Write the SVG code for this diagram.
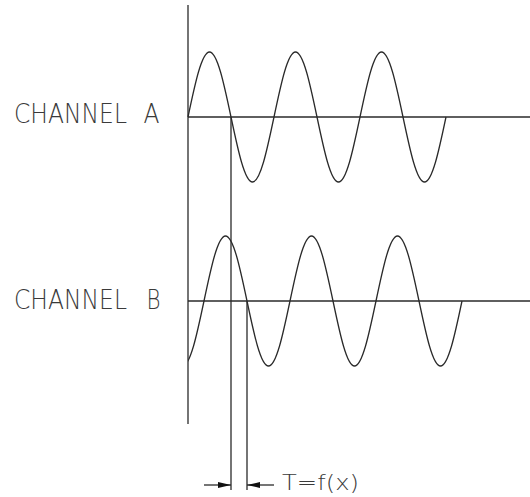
<svg xmlns="http://www.w3.org/2000/svg" width="530" height="497" viewBox="0 0 530 497">
  <style>
    .ln { stroke: #2a2a2a; stroke-width: 1.3; fill: none; }
    .lbl { font-family: "DejaVu Sans", "Liberation Sans", sans-serif; font-weight: 200; fill: #3a3a3a; }
  </style>
  <defs>
    <clipPath id="clipB"><rect x="188" y="0" width="342" height="497"/></clipPath>
    <marker id="ah" viewBox="0 0 13 6" refX="13" refY="3" markerWidth="13" markerHeight="6" markerUnits="userSpaceOnUse" orient="auto">
      <path d="M0,0 L13,3 L0,6 Z" fill="#111"/>
    </marker>
  </defs>
  <rect width="530" height="497" fill="#fff"/>

  <g id="axis">
    <line class="ln" x1="188" y1="5" x2="188" y2="424"/>
  </g>

  <g id="channel-a">
    <text class="lbl" font-size="26"><tspan x="14" y="123.3" textLength="113" lengthAdjust="spacingAndGlyphs">CHANNEL</tspan><tspan x="143.5" y="123.3" textLength="16" lengthAdjust="spacingAndGlyphs">A</tspan></text>
    <line class="ln" x1="188" y1="117" x2="530" y2="117"/>
    <path class="ln" d="M188,117
      c 7.01,-33.30 13.72,-65 21.5,-65 c 7.78,0 14.49,31.70 21.5,65 c 7.01,33.30 13.72,65 21.5,65 c 7.78,0 14.49,-31.70 21.5,-65
      c 7.01,-33.30 13.72,-65 21.5,-65 c 7.78,0 14.49,31.70 21.5,65 c 7.01,33.30 13.72,65 21.5,65 c 7.78,0 14.49,-31.70 21.5,-65
      c 7.01,-33.30 13.72,-65 21.5,-65 c 7.78,0 14.49,31.70 21.5,65 c 7.01,33.30 13.72,65 21.5,65 c 7.78,0 14.49,-31.70 21.5,-65"/>
  </g>

  <g id="channel-b">
    <text class="lbl" font-size="26"><tspan x="14" y="309" textLength="113" lengthAdjust="spacingAndGlyphs">CHANNEL</tspan><tspan x="146.5" y="309" textLength="14" lengthAdjust="spacingAndGlyphs">B</tspan></text>
    <line class="ln" x1="188" y1="301" x2="530" y2="301"/>
    <path class="ln" clip-path="url(#clipB)" d="M182.5,366
      c 7.78,0 14.49,-31.70 21.5,-65
      c 7.01,-33.30 13.72,-65 21.5,-65 c 7.78,0 14.49,31.70 21.5,65 c 7.01,33.30 13.72,65 21.5,65 c 7.78,0 14.49,-31.70 21.5,-65
      c 7.01,-33.30 13.72,-65 21.5,-65 c 7.78,0 14.49,31.70 21.5,65 c 7.01,33.30 13.72,65 21.5,65 c 7.78,0 14.49,-31.70 21.5,-65
      c 7.01,-33.30 13.72,-65 21.5,-65 c 7.78,0 14.49,31.70 21.5,65 c 7.01,33.30 13.72,65 21.5,65 c 7.78,0 14.49,-31.70 21.5,-65"/>
  </g>

  <g id="connectors">
    <line class="ln" x1="231" y1="117" x2="231" y2="490"/>
    <line class="ln" x1="247" y1="301" x2="247" y2="490"/>
    <line class="ln" x1="204" y1="485" x2="231" y2="485" marker-end="url(#ah)"/>
    <line class="ln" x1="274" y1="485" x2="247" y2="485" marker-end="url(#ah)"/>
  </g>

  <g id="label-t">
    <text class="lbl" x="282" y="489.5" font-size="22" textLength="77" lengthAdjust="spacingAndGlyphs">T=f(x)</text>
  </g>
</svg>
